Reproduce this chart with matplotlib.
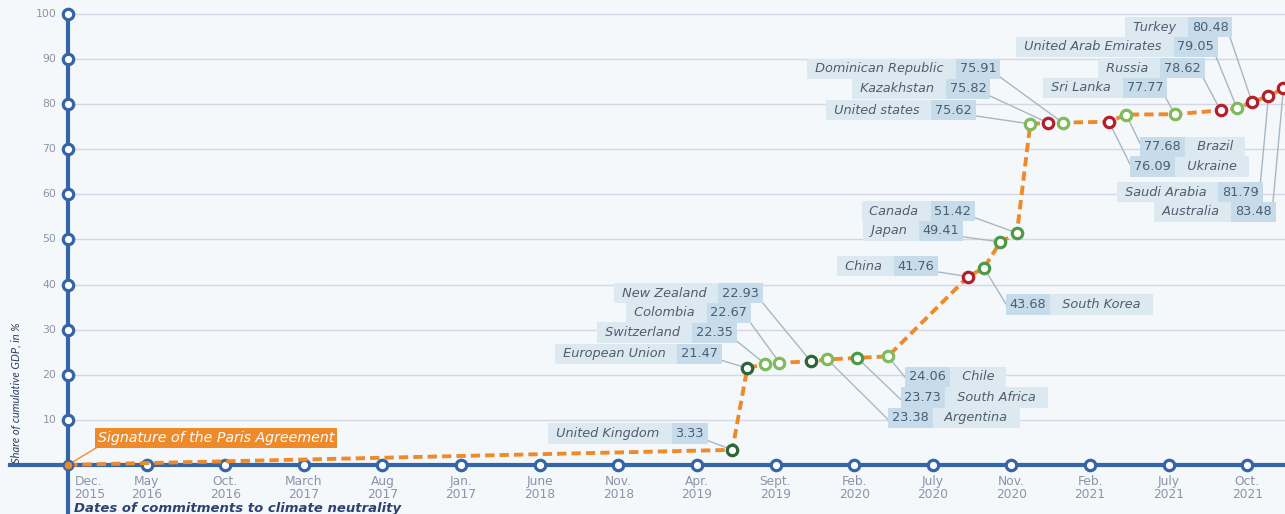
import matplotlib.pyplot as plt
import numpy as np

plt.rcParams['font.family'] = ['DejaVu Sans']

# x axis: commitment dates (evenly spaced categories)
tick_labels = ["Dec.\n2015", "May\n2016", "Oct.\n2016", "March\n2017", "Aug\n2017",
               "Jan.\n2017", "June\n2018", "Nov.\n2018", "Apr.\n2019", "Sept.\n2019",
               "Feb.\n2020", "July\n2020", "Nov.\n2020", "Feb.\n2021", "July\n2021",
               "Oct.\n2021"]

# countries, date position (in tick units), cumulative share of GDP, status
countries = ["United Kingdom", "European Union", "Switzerland", "Colombia", "New Zealand",
             "Argentina", "South Africa", "Chile", "China", "South Korea", "Japan", "Canada",
             "United states", "Kazakhstan", "Dominican Republic", "Ukraine", "Brazil",
             "Sri Lanka", "Russia", "United Arab Emirates", "Turkey", "Saudi Arabia", "Australia"]
date_pos = [8.45, 8.64, 8.87, 9.05, 9.45, 9.66, 10.04, 10.43, 11.45, 11.65, 11.86, 12.07,
            12.24, 12.47, 12.65, 13.24, 13.46, 14.08, 14.66, 14.87, 15.06, 15.27, 15.46]
shares = [3.33, 21.47, 22.35, 22.67, 22.93, 23.38, 23.73, 24.06, 41.76, 43.68, 49.41, 51.42,
          75.62, 75.82, 75.91, 76.09, 77.68, 77.77, 78.62, 79.05, 80.48, 81.79, 83.48]
status = ["dark", "dark", "light", "light", "dark", "light", "mid", "light", "red", "mid",
          "mid", "mid", "light", "red", "light", "red", "light", "light", "red", "light",
          "red", "red", "red"]

# label placement (layout): anchor x, anchor y, side of the point
label_pos = [(8.09, 6.9, 'L'), (8.27, 24.6, 'L'), (8.46, 29.3, 'L'), (8.64, 33.7, 'L'),
             (8.79, 38.1, 'L'), (10.48, 10.4, 'R'), (10.64, 14.9, 'R'), (10.70, 19.5, 'R'),
             (11.02, 44.1, 'L'), (11.98, 35.5, 'R'), (11.34, 51.9, 'L'), (11.49, 56.3, 'L'),
             (11.50, 78.7, 'L'), (11.68, 83.4, 'L'), (11.81, 87.8, 'L'), (13.56, 66.1, 'R'),
             (13.69, 70.5, 'R'), (13.93, 83.6, 'L'), (14.41, 88.0, 'L'), (14.58, 92.7, 'L'),
             (14.76, 97.1, 'L'), (15.15, 60.5, 'L'), (15.31, 56.1, 'L')]

colors = {"dark": "#2d6539", "mid": "#4c9a48", "light": "#7dbb5c", "red": "#b3202c"}
blue = "#3565a5"
orange = "#ef8a2b"
gray_txt = "#8c94a8"

fig = plt.figure(figsize=(12.85, 5.14), dpi=100)
fig.patch.set_facecolor("#f4f8fb")
ax = fig.add_axes([0, 0, 1, 1])
ax.set_facecolor("#f4f8fb")
ax.set_xlim(-0.865, 15.48)
ax.set_ylim(-10.9, 103.1)
ax.axis('off')

# grid
for v in range(10, 101, 10):
    ax.plot([0, 16], [v, v], color="#d3d7e6", lw=1, zorder=1)

# axes lines
ax.plot([0, 0], [-12, 100], color=blue, lw=3, zorder=3, solid_capstyle='butt')
ax.plot([-0.74, 16], [0, 0], color=blue, lw=3, zorder=3)
ax.plot(np.arange(1, 16), np.zeros(15), 'o', ms=7.5, mfc='white', mec=blue, mew=2.3, zorder=4)
ax.plot(np.zeros(10), np.arange(10, 101, 10), 'o', ms=7.5, mfc='white', mec=blue, mew=2.3, zorder=4)

for v in range(10, 101, 10):
    ax.text(-0.15, v, str(v), ha='right', va='center', fontsize=7.8, color=gray_txt)
for i, lab in enumerate(tick_labels):
    if i == 0:
        ax.text(0.08, -2.3, lab, ha='left', va='top', fontsize=8.8, color=gray_txt, linespacing=0.95)
    else:
        ax.text(i, -2.3, lab, ha='center', va='top', fontsize=8.8, color=gray_txt, linespacing=0.95)

ax.text(-0.66, 0.5, "Share of cumulative GDP, in %", rotation=90, ha='center', va='bottom',
        fontsize=8, style='italic', color="#2d3d5c", family='Lato')
ax.text(0.08, -9.6, "Dates of commitments to climate neutrality", ha='left', va='center',
        fontsize=9.5, style='italic', weight='bold', color="#2d4270")

# cumulative line
ax.plot([0] + date_pos, [0] + shares, color=orange, lw=2.8, dashes=(2.4, 1.3), zorder=5)
ax.plot([0], [0], 'o', ms=7, mfc=orange, mec=blue, mew=1.5, zorder=6)
for x, y, s in zip(date_pos, shares, status):
    ax.plot(x, y, 'o', ms=7.5, mfc='white', mec=colors[s], mew=2.3, zorder=7)

# Paris agreement label
ax.plot([0, 0.4], [0, 4.2], color=orange, lw=1, zorder=4)
ax.text(0.38, 6.0, "Signature of the Paris Agreement", ha='left', va='center', fontsize=10.2,
        style='italic', color='white', zorder=8,
        bbox=dict(boxstyle='square,pad=0.22', fc=orange, ec='none'))

name_bg = "#dce9f1"
val_bg = "#c6dcea"
pad = 0.3
fs = 9.3
for name, x, y, (lx, ly, side) in zip(countries, date_pos, shares, label_pos):
    ax.plot([lx, x], [ly - 1.2, y], color="#a9b7c2", lw=1, zorder=2)
    val = f"{y:.2f}"
    if side == 'L':
        vt = ax.text(lx, ly, val, ha='right', va='center', fontsize=fs, color="#4d5d73",
                     zorder=8, bbox=dict(boxstyle=f'square,pad={pad}', fc=val_bg, ec='none'))
        ax.annotate(" " + name + "  ", xy=(0, 0.5), xycoords=vt, xytext=(-2 * pad * fs, 0),
                    textcoords='offset points', ha='right', va='center', fontsize=fs,
                    style='italic', color="#525c6c", zorder=8,
                    bbox=dict(boxstyle=f'square,pad={pad}', fc=name_bg, ec='none'))
    else:
        vt = ax.text(lx, ly, val, ha='left', va='center', fontsize=fs, color="#4d5d73",
                     zorder=8, bbox=dict(boxstyle=f'square,pad={pad}', fc=val_bg, ec='none'))
        ax.annotate("  " + name + "  ", xy=(1, 0.5), xycoords=vt, xytext=(2 * pad * fs, 0),
                    textcoords='offset points', ha='left', va='center', fontsize=fs,
                    style='italic', color="#525c6c", zorder=8,
                    bbox=dict(boxstyle=f'square,pad={pad}', fc=name_bg, ec='none'))

fig.savefig("out.png", dpi=100, facecolor=fig.get_facecolor())
